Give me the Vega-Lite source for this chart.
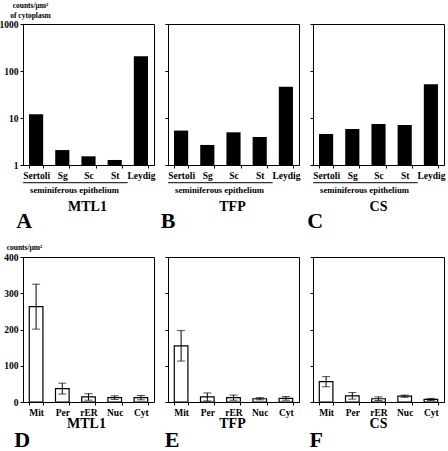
{
  "$schema": "https://vega.github.io/schema/vega-lite/v6.json",
  "autosize": {"type": "pad"},
  "padding": {"left": -2, "top": 0, "right": 0, "bottom": 0},
  "background": "white",
  "config": {
    "font": "Liberation Serif",
    "view": {"stroke": "black", "strokeWidth": 1},
    "axis": {"domainColor": "black", "tickColor": "black", "labelColor": "black", "labelFont": "Liberation Serif", "labelFontWeight": "bold", "titleFont": "Liberation Serif", "titleFontWeight": "bold", "titleColor": "black", "grid": false, "domainWidth": 1, "tickWidth": 1, "labelOverlap": false},
    "text": {"font": "Liberation Serif", "fontWeight": "bold", "color": "black"}
  },
  "datasets": {
    "top": [
      {"panel": "A", "cell": "Sertoli", "value": 12},
      {"panel": "A", "cell": "Sg", "value": 2.08},
      {"panel": "A", "cell": "Sc", "value": 1.53},
      {"panel": "A", "cell": "St", "value": 1.28},
      {"panel": "A", "cell": "Leydig", "value": 205},
      {"panel": "B", "cell": "Sertoli", "value": 5.4},
      {"panel": "B", "cell": "Sg", "value": 2.67},
      {"panel": "B", "cell": "Sc", "value": 4.96},
      {"panel": "B", "cell": "St", "value": 3.94},
      {"panel": "B", "cell": "Leydig", "value": 46},
      {"panel": "C", "cell": "Sertoli", "value": 4.57},
      {"panel": "C", "cell": "Sg", "value": 5.83},
      {"panel": "C", "cell": "Sc", "value": 7.45},
      {"panel": "C", "cell": "St", "value": 7.1},
      {"panel": "C", "cell": "Leydig", "value": 52}
    ],
    "bottom": [
      {"panel": "D", "cell": "Mit", "mean": 263, "err": 62},
      {"panel": "D", "cell": "Per", "mean": 37, "err": 15},
      {"panel": "D", "cell": "rER", "mean": 14, "err": 9},
      {"panel": "D", "cell": "Nuc", "mean": 12, "err": 5},
      {"panel": "D", "cell": "Cyt", "mean": 12, "err": 6},
      {"panel": "E", "cell": "Mit", "mean": 155, "err": 42},
      {"panel": "E", "cell": "Per", "mean": 14, "err": 11},
      {"panel": "E", "cell": "rER", "mean": 12, "err": 7},
      {"panel": "E", "cell": "Nuc", "mean": 9, "err": 3},
      {"panel": "E", "cell": "Cyt", "mean": 10, "err": 5},
      {"panel": "F", "cell": "Mit", "mean": 56, "err": 14},
      {"panel": "F", "cell": "Per", "mean": 17, "err": 9},
      {"panel": "F", "cell": "rER", "mean": 9, "err": 5},
      {"panel": "F", "cell": "Nuc", "mean": 16, "err": 3},
      {"panel": "F", "cell": "Cyt", "mean": 7, "err": 3}
    ],
    "underline": [{"from": "Sertoli", "to": "St"}],
    "labels": [
      {"panel": "A", "group": "seminiferous epithelium", "protein": "MTL1", "letter": "A"},
      {"panel": "B", "group": "seminiferous epithelium", "protein": "TFP", "letter": "B"},
      {"panel": "C", "group": "seminiferous epithelium", "protein": "CS", "letter": "C"},
      {"panel": "D", "protein": "MTL1", "letter": "D"},
      {"panel": "E", "protein": "TFP", "letter": "E"},
      {"panel": "F", "protein": "CS", "letter": "F"}
    ]
  },
  "columns": 3,
  "spacing": {"row": 92, "column": 14},
  "bounds": "flush",
  "concat": [
    {
      "width": 131, "height": 141,
      "layer": [
        {"data": {"name": "top"}, "transform": [{"filter": "datum.panel === 'A'"}],
         "mark": {"type": "bar", "color": "black"},
         "encoding": {
           "x": {"field": "cell", "type": "nominal", "scale": {"domain": ["Sertoli", "Sg", "Sc", "St", "Leydig"], "paddingInner": 0.46, "paddingOuter": 0.23}, "axis": {"title": null, "labelAngle": 0, "tickBand": "extent", "tickSize": 3, "labelPadding": 2, "labelFontSize": 9.5}},
           "y": {"field": "value", "type": "quantitative", "scale": {"type": "log", "domain": [1, 1000]}, "axis": {"values": [1, 10, 100, 1000], "format": "d", "tickSize": 3, "labelPadding": 2, "labelFontSize": 9.5, "title": ["counts/μm²", "of cytoplasm"], "titleFontSize": 7.5, "titleAngle": 0, "titleAlign": "center", "titleBaseline": "bottom", "titleX": 7, "titleY": -15, "titleLineHeight": 10}},
           "y2": {"datum": 1}
         }},
        {"data": {"name": "underline"},
         "mark": {"type": "rule", "color": "black", "strokeWidth": 1, "xOffset": -13, "x2Offset": 13},
         "encoding": {"x": {"field": "from", "type": "nominal", "scale": {"domain": ["Sertoli", "Sg", "Sc", "St", "Leydig"]}}, "x2": {"field": "to"}, "y": {"datum": 0.42}}},
        {"data": {"name": "labels"}, "transform": [{"filter": "datum.panel === 'A'"}],
         "mark": {"type": "text", "baseline": "middle", "fontSize": 8.7, "dx": -14, "dy": 25},
         "encoding": {"x": {"datum": "Sc", "scale": {"domain": ["Sertoli", "Sg", "Sc", "St", "Leydig"]}}, "y": {"datum": 1}, "text": {"field": "group"}}},
        {"data": {"name": "labels"}, "transform": [{"filter": "datum.panel === 'A'"}],
         "mark": {"type": "text", "baseline": "middle", "fontSize": 14, "dx": -1, "dy": 42},
         "encoding": {"x": {"datum": "Sc", "scale": {"domain": ["Sertoli", "Sg", "Sc", "St", "Leydig"]}}, "y": {"datum": 1}, "text": {"field": "protein"}}},
        {"data": {"name": "labels"}, "transform": [{"filter": "datum.panel === 'A'"}],
         "mark": {"type": "text", "baseline": "middle", "fontSize": 22, "dx": -12, "dy": 56},
         "encoding": {"x": {"datum": "Sertoli", "scale": {"domain": ["Sertoli", "Sg", "Sc", "St", "Leydig"]}}, "y": {"datum": 1}, "text": {"field": "letter"}}}
      ]
    },
    {
      "width": 131, "height": 141,
      "layer": [
        {"data": {"name": "top"}, "transform": [{"filter": "datum.panel === 'B'"}],
         "mark": {"type": "bar", "color": "black"},
         "encoding": {
           "x": {"field": "cell", "type": "nominal", "scale": {"domain": ["Sertoli", "Sg", "Sc", "St", "Leydig"], "paddingInner": 0.46, "paddingOuter": 0.23}, "axis": {"title": null, "labelAngle": 0, "tickBand": "extent", "tickSize": 3, "labelPadding": 2, "labelFontSize": 9.5}},
           "y": {"field": "value", "type": "quantitative", "scale": {"type": "log", "domain": [1, 1000]}, "axis": {"values": [1, 10, 100, 1000], "labels": false, "tickSize": 3, "title": null}},
           "y2": {"datum": 1}
         }},
        {"data": {"name": "underline"},
         "mark": {"type": "rule", "color": "black", "strokeWidth": 1, "xOffset": -13, "x2Offset": 13},
         "encoding": {"x": {"field": "from", "type": "nominal", "scale": {"domain": ["Sertoli", "Sg", "Sc", "St", "Leydig"]}}, "x2": {"field": "to"}, "y": {"datum": 0.42}}},
        {"data": {"name": "labels"}, "transform": [{"filter": "datum.panel === 'B'"}],
         "mark": {"type": "text", "baseline": "middle", "fontSize": 8.7, "dx": -14, "dy": 25},
         "encoding": {"x": {"datum": "Sc", "scale": {"domain": ["Sertoli", "Sg", "Sc", "St", "Leydig"]}}, "y": {"datum": 1}, "text": {"field": "group"}}},
        {"data": {"name": "labels"}, "transform": [{"filter": "datum.panel === 'B'"}],
         "mark": {"type": "text", "baseline": "middle", "fontSize": 14, "dx": -1, "dy": 42},
         "encoding": {"x": {"datum": "Sc", "scale": {"domain": ["Sertoli", "Sg", "Sc", "St", "Leydig"]}}, "y": {"datum": 1}, "text": {"field": "protein"}}},
        {"data": {"name": "labels"}, "transform": [{"filter": "datum.panel === 'B'"}],
         "mark": {"type": "text", "baseline": "middle", "fontSize": 22, "dx": -13, "dy": 56},
         "encoding": {"x": {"datum": "Sertoli", "scale": {"domain": ["Sertoli", "Sg", "Sc", "St", "Leydig"]}}, "y": {"datum": 1}, "text": {"field": "letter"}}}
      ]
    },
    {
      "width": 131, "height": 141,
      "layer": [
        {"data": {"name": "top"}, "transform": [{"filter": "datum.panel === 'C'"}],
         "mark": {"type": "bar", "color": "black"},
         "encoding": {
           "x": {"field": "cell", "type": "nominal", "scale": {"domain": ["Sertoli", "Sg", "Sc", "St", "Leydig"], "paddingInner": 0.46, "paddingOuter": 0.23}, "axis": {"title": null, "labelAngle": 0, "tickBand": "extent", "tickSize": 3, "labelPadding": 2, "labelFontSize": 9.5}},
           "y": {"field": "value", "type": "quantitative", "scale": {"type": "log", "domain": [1, 1000]}, "axis": {"values": [1, 10, 100, 1000], "labels": false, "tickSize": 3, "title": null}},
           "y2": {"datum": 1}
         }},
        {"data": {"name": "underline"},
         "mark": {"type": "rule", "color": "black", "strokeWidth": 1, "xOffset": -13, "x2Offset": 13},
         "encoding": {"x": {"field": "from", "type": "nominal", "scale": {"domain": ["Sertoli", "Sg", "Sc", "St", "Leydig"]}}, "x2": {"field": "to"}, "y": {"datum": 0.42}}},
        {"data": {"name": "labels"}, "transform": [{"filter": "datum.panel === 'C'"}],
         "mark": {"type": "text", "baseline": "middle", "fontSize": 8.7, "dx": -14, "dy": 25},
         "encoding": {"x": {"datum": "Sc", "scale": {"domain": ["Sertoli", "Sg", "Sc", "St", "Leydig"]}}, "y": {"datum": 1}, "text": {"field": "group"}}},
        {"data": {"name": "labels"}, "transform": [{"filter": "datum.panel === 'C'"}],
         "mark": {"type": "text", "baseline": "middle", "fontSize": 14, "dx": 0, "dy": 42},
         "encoding": {"x": {"datum": "Sc", "scale": {"domain": ["Sertoli", "Sg", "Sc", "St", "Leydig"]}}, "y": {"datum": 1}, "text": {"field": "protein"}}},
        {"data": {"name": "labels"}, "transform": [{"filter": "datum.panel === 'C'"}],
         "mark": {"type": "text", "baseline": "middle", "fontSize": 22, "dx": -11, "dy": 56},
         "encoding": {"x": {"datum": "Sertoli", "scale": {"domain": ["Sertoli", "Sg", "Sc", "St", "Leydig"]}}, "y": {"datum": 1}, "text": {"field": "letter"}}}
      ]
    },
    {
      "width": 131, "height": 145,
      "resolve": {"axis": {"y": "independent"}},
      "layer": [
        {"data": {"name": "bottom"}, "transform": [{"filter": "datum.panel === 'D'"}],
         "mark": {"type": "bar", "fill": "white", "stroke": "black", "strokeWidth": 1.2},
         "encoding": {
           "x": {"field": "cell", "type": "nominal", "scale": {"domain": ["Mit", "Per", "rER", "Nuc", "Cyt"], "paddingInner": 0.48, "paddingOuter": 0.24}, "axis": {"title": null, "labelAngle": 0, "tickBand": "extent", "tickSize": 3, "labelPadding": 2, "labelFontSize": 9.5}},
           "y": {"field": "mean", "type": "quantitative", "scale": {"domain": [0, 400]}, "axis": {"values": [0, 100, 200, 300, 400], "labelOverlap": false, "tickSize": 3, "labelPadding": 2, "labelFontSize": 9.5, "title": "counts/μm²", "titleFontSize": 7.5, "titleAngle": 0, "titleAlign": "center", "titleBaseline": "alphabetic", "titleX": 1, "titleY": -8}}
         }},
        {"data": {"name": "bottom"}, "transform": [{"filter": "datum.panel === 'D'"}],
         "mark": {"type": "errorbar", "color": "black", "thickness": 1, "ticks": {"size": 8, "color": "black", "thickness": 1}},
         "encoding": {
           "x": {"field": "cell", "type": "nominal", "scale": {"domain": ["Mit", "Per", "rER", "Nuc", "Cyt"]}, "axis": {"title": null, "labelAngle": 0, "tickBand": "extent", "tickSize": 3, "labelPadding": 2, "labelFontSize": 9.5}},
           "y": {"field": "mean", "type": "quantitative", "axis": null},
           "yError": {"field": "err"}}},
        {"data": {"name": "labels"}, "transform": [{"filter": "datum.panel === 'D'"}],
         "mark": {"type": "text", "baseline": "middle", "fontSize": 14, "dx": -2, "dy": 22},
         "encoding": {"x": {"datum": "rER", "scale": {"domain": ["Mit", "Per", "rER", "Nuc", "Cyt"]}}, "y": {"datum": 0, "axis": null}, "text": {"field": "protein"}}},
        {"data": {"name": "labels"}, "transform": [{"filter": "datum.panel === 'D'"}],
         "mark": {"type": "text", "baseline": "middle", "fontSize": 22, "dx": -14, "dy": 38},
         "encoding": {"x": {"datum": "Mit", "scale": {"domain": ["Mit", "Per", "rER", "Nuc", "Cyt"]}}, "y": {"datum": 0, "axis": null}, "text": {"field": "letter"}}}
      ]
    },
    {
      "width": 131, "height": 145,
      "resolve": {"axis": {"y": "independent"}},
      "layer": [
        {"data": {"name": "bottom"}, "transform": [{"filter": "datum.panel === 'E'"}],
         "mark": {"type": "bar", "fill": "white", "stroke": "black", "strokeWidth": 1.2},
         "encoding": {
           "x": {"field": "cell", "type": "nominal", "scale": {"domain": ["Mit", "Per", "rER", "Nuc", "Cyt"], "paddingInner": 0.48, "paddingOuter": 0.24}, "axis": {"title": null, "labelAngle": 0, "tickBand": "extent", "tickSize": 3, "labelPadding": 2, "labelFontSize": 9.5}},
           "y": {"field": "mean", "type": "quantitative", "scale": {"domain": [0, 400]}, "axis": {"values": [0, 100, 200, 300, 400], "labels": false, "tickSize": 3, "title": null}}
         }},
        {"data": {"name": "bottom"}, "transform": [{"filter": "datum.panel === 'E'"}],
         "mark": {"type": "errorbar", "color": "black", "thickness": 1, "ticks": {"size": 8, "color": "black", "thickness": 1}},
         "encoding": {
           "x": {"field": "cell", "type": "nominal", "scale": {"domain": ["Mit", "Per", "rER", "Nuc", "Cyt"]}, "axis": {"title": null, "labelAngle": 0, "tickBand": "extent", "tickSize": 3, "labelPadding": 2, "labelFontSize": 9.5}},
           "y": {"field": "mean", "type": "quantitative", "axis": null},
           "yError": {"field": "err"}}},
        {"data": {"name": "labels"}, "transform": [{"filter": "datum.panel === 'E'"}],
         "mark": {"type": "text", "baseline": "middle", "fontSize": 14, "dx": -1, "dy": 22},
         "encoding": {"x": {"datum": "rER", "scale": {"domain": ["Mit", "Per", "rER", "Nuc", "Cyt"]}}, "y": {"datum": 0, "axis": null}, "text": {"field": "protein"}}},
        {"data": {"name": "labels"}, "transform": [{"filter": "datum.panel === 'E'"}],
         "mark": {"type": "text", "baseline": "middle", "fontSize": 22, "dx": -9, "dy": 38},
         "encoding": {"x": {"datum": "Mit", "scale": {"domain": ["Mit", "Per", "rER", "Nuc", "Cyt"]}}, "y": {"datum": 0, "axis": null}, "text": {"field": "letter"}}}
      ]
    },
    {
      "width": 131, "height": 145,
      "resolve": {"axis": {"y": "independent"}},
      "layer": [
        {"data": {"name": "bottom"}, "transform": [{"filter": "datum.panel === 'F'"}],
         "mark": {"type": "bar", "fill": "white", "stroke": "black", "strokeWidth": 1.2},
         "encoding": {
           "x": {"field": "cell", "type": "nominal", "scale": {"domain": ["Mit", "Per", "rER", "Nuc", "Cyt"], "paddingInner": 0.48, "paddingOuter": 0.24}, "axis": {"title": null, "labelAngle": 0, "tickBand": "extent", "tickSize": 3, "labelPadding": 2, "labelFontSize": 9.5}},
           "y": {"field": "mean", "type": "quantitative", "scale": {"domain": [0, 400]}, "axis": {"values": [0, 100, 200, 300, 400], "labels": false, "tickSize": 3, "title": null}}
         }},
        {"data": {"name": "bottom"}, "transform": [{"filter": "datum.panel === 'F'"}],
         "mark": {"type": "errorbar", "color": "black", "thickness": 1, "ticks": {"size": 8, "color": "black", "thickness": 1}},
         "encoding": {
           "x": {"field": "cell", "type": "nominal", "scale": {"domain": ["Mit", "Per", "rER", "Nuc", "Cyt"]}, "axis": {"title": null, "labelAngle": 0, "tickBand": "extent", "tickSize": 3, "labelPadding": 2, "labelFontSize": 9.5}},
           "y": {"field": "mean", "type": "quantitative", "axis": null},
           "yError": {"field": "err"}}},
        {"data": {"name": "labels"}, "transform": [{"filter": "datum.panel === 'F'"}],
         "mark": {"type": "text", "baseline": "middle", "fontSize": 14, "dx": 0, "dy": 22},
         "encoding": {"x": {"datum": "rER", "scale": {"domain": ["Mit", "Per", "rER", "Nuc", "Cyt"]}}, "y": {"datum": 0, "axis": null}, "text": {"field": "protein"}}},
        {"data": {"name": "labels"}, "transform": [{"filter": "datum.panel === 'F'"}],
         "mark": {"type": "text", "baseline": "middle", "fontSize": 22, "dx": -10, "dy": 38},
         "encoding": {"x": {"datum": "Mit", "scale": {"domain": ["Mit", "Per", "rER", "Nuc", "Cyt"]}}, "y": {"datum": 0, "axis": null}, "text": {"field": "letter"}}}
      ]
    }
  ]
}
